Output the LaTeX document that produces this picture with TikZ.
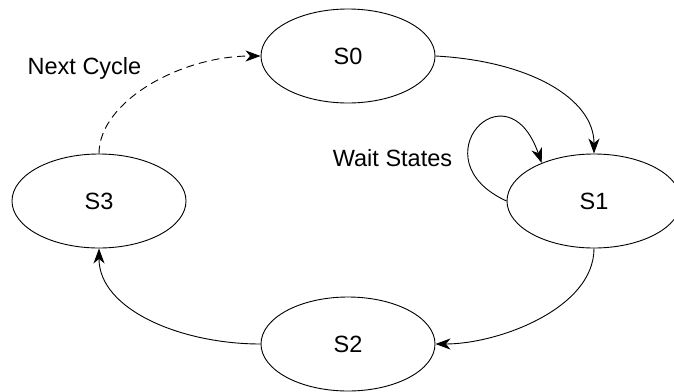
\documentclass[tikz,border=0pt]{standalone}
\usepackage{fontspec}
\setmainfont{Liberation Sans}
\usetikzlibrary{arrows.meta,shapes.geometric}
\begin{document}
\begin{tikzpicture}[x=1pt,y=-1pt,
  state/.style={draw,ellipse,line width=0.9pt,minimum width=174pt,minimum height=94pt,inner sep=0pt,font=\fontsize{23.5}{28}\selectfont},
  lbl/.style={anchor=base,inner sep=0pt,font=\fontsize{23.5}{28}\selectfont},
  conn/.style={line width=0.9pt,-{Stealth[length=15pt,width=11pt,inset=4.5pt]}},
  dashedconn/.style={conn,dash pattern=on 8pt off 5pt}]
\useasboundingbox (0,0) rectangle (674,391);
\node[state] (S0) at (348,56) {S0};
\node[state] (S1) at (594,201) {S1};
\node[state] (S2) at (348,344) {S2};
\node[state] (S3) at (99,201) {S3};
\node[lbl] (next) at (84.5,74) {Next Cycle};
\node[lbl] (wait) at (392.5,166) {Wait States};
\draw[conn] (S0.east) .. controls +(94,5) and +(0,-55) .. (S1.north);
\draw[conn] (S1.west) .. controls +(-90,-41) and +(-35,-100) .. (S1.144);
\draw[conn] (S1.south) .. controls +(0,60) and +(63,0) .. (S2.east);
\draw[conn] (S2.west) .. controls +(-80,0) and +(0,61) .. (S3.south);
\draw[dashedconn] (S3.north) .. controls +(0,-52) and +(-80,0) .. (S0.west);
\end{tikzpicture}
\end{document}
